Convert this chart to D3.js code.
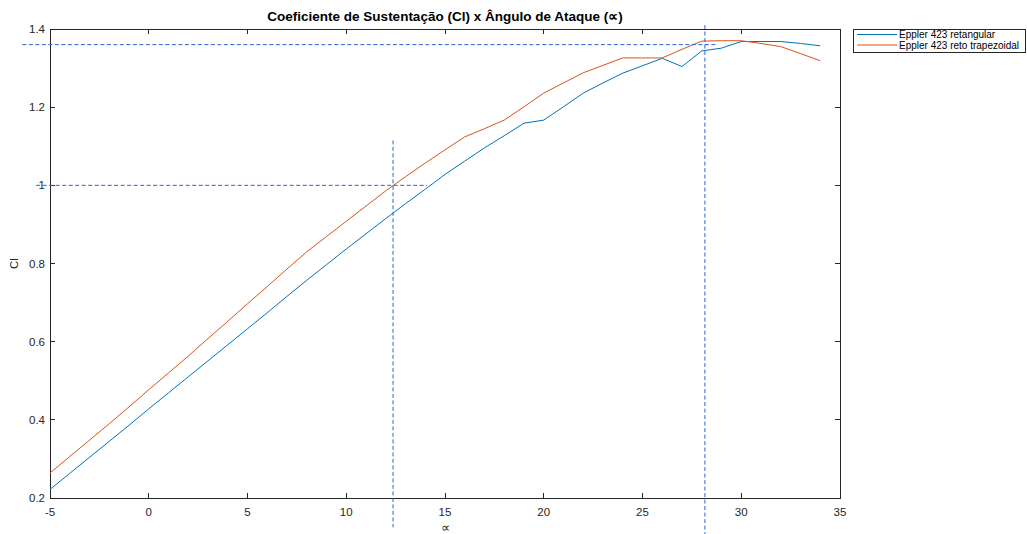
<!DOCTYPE html>
<html>
<head>
<meta charset="utf-8">
<script src="https://cdn.jsdelivr.net/npm/d3@7"></script>
<style>
  body { margin: 0; background: #fff; }
  svg { display: block; font-family: "Liberation Sans", Arial, sans-serif; }
</style>
</head>
<body>
<div id="chart"></div>
<script>
// angle of attack (deg)
const alpha = [-5,-4,-3,-2,-1,0,1,2,3,4,5,6,7,8,9,10,11,12,13,14,15,16,17,18,19,20,21,22,23,24,25,26,27,28,29,30,31,32,33,34];

// Cl values
const clRetangular = [0.222,0.263,0.304,0.345,0.386,0.428,0.469,0.510,0.551,0.592,0.633,0.674,0.716,0.757,0.797,0.837,0.876,0.915,0.953,0.990,1.028,1.062,1.096,1.127,1.159,1.167,1.201,1.236,1.262,1.287,1.306,1.325,1.304,1.344,1.351,1.368,1.368,1.368,1.363,1.357];
const clTrapezoidal = [0.264,0.306,0.348,0.390,0.433,0.477,0.520,0.563,0.608,0.652,0.697,0.741,0.786,0.830,0.869,0.908,0.947,0.986,1.022,1.057,1.091,1.124,1.145,1.167,1.201,1.236,1.262,1.288,1.307,1.326,1.326,1.326,1.348,1.369,1.370,1.370,1.363,1.355,1.337,1.319];

const seriesNames = ['Eppler 423 retangular', 'Eppler 423 reto trapezoidal'];
const seriesColors = ['#0072BD', '#D95319'];

const xTicks = [-5, 0, 5, 10, 15, 20, 25, 30, 35];
const yTicks = [0.2, 0.4, 0.6, 0.8, 1, 1.2, 1.4];

// guide lines (data coords), drawn unclipped like in the original
const guides = [
  { x: [-6.4, 28.7], y: [1.36, 1.36] },
  { x: [28.16, 28.16], y: [1.41, 0.108] },
  { x: [-5.7, 14.1], y: [1.0, 1.0] },
  { x: [12.37, 12.37], y: [1.115, 0.125] }
];

const width = 1027, height = 534;
const m = { top: 29, right: 187, bottom: 36, left: 50 };

const svg = d3.select('#chart').append('svg')
  .attr('width', width)
  .attr('height', height);

const x = d3.scaleLinear()
  .domain([-5, 35])
  .range([m.left, width - m.right]);
const y = d3.scaleLinear()
  .domain([0.2, 1.4])
  .range([height - m.bottom, m.top]);

const axisColor = '#262626';
const tickLen = 5;

// box + ticks (inward, all four sides)
const axG = svg.append('g');
axG.append('rect')
  .attr('x', x(-5)).attr('y', y(1.4))
  .attr('width', x(35) - x(-5)).attr('height', y(0.2) - y(1.4))
  .attr('fill', 'none')
  .attr('stroke', axisColor)
  .attr('stroke-width', 1)
  .attr('shape-rendering', 'crispEdges');

axG.selectAll('.xt-b').data(xTicks).join('line')
  .attr('x1', d => x(d)).attr('x2', d => x(d))
  .attr('y1', y(0.2)).attr('y2', y(0.2) - tickLen)
  .attr('stroke', axisColor).attr('shape-rendering', 'crispEdges');
axG.selectAll('.xt-t').data(xTicks).join('line')
  .attr('x1', d => x(d)).attr('x2', d => x(d))
  .attr('y1', y(1.4)).attr('y2', y(1.4) + tickLen)
  .attr('stroke', axisColor).attr('shape-rendering', 'crispEdges');
axG.selectAll('.yt-l').data(yTicks).join('line')
  .attr('x1', x(-5)).attr('x2', x(-5) + tickLen)
  .attr('y1', d => y(d)).attr('y2', d => y(d))
  .attr('stroke', axisColor).attr('shape-rendering', 'crispEdges');
axG.selectAll('.yt-r').data(yTicks).join('line')
  .attr('x1', x(35)).attr('x2', x(35) - tickLen)
  .attr('y1', d => y(d)).attr('y2', d => y(d))
  .attr('stroke', axisColor).attr('shape-rendering', 'crispEdges');

axG.selectAll('.xl').data(xTicks).join('text')
  .attr('x', d => x(d))
  .attr('y', y(0.2) + 18)
  .attr('text-anchor', 'middle')
  .attr('font-size', 11.5)
  .attr('fill', axisColor)
  .text(d => d);
axG.selectAll('.yl').data(yTicks).join('text')
  .attr('x', x(-5) - 5)
  .attr('y', d => y(d) + 4)
  .attr('text-anchor', 'end')
  .attr('font-size', 11.5)
  .attr('fill', axisColor)
  .text(d => d);

// series lines
const line = d3.line()
  .x((d, i) => x(alpha[i]))
  .y(d => y(d));

[clRetangular, clTrapezoidal].forEach((s, i) => {
  svg.append('path')
    .datum(s)
    .attr('fill', 'none')
    .attr('stroke', seriesColors[i])
    .attr('stroke-width', 1)
    .attr('d', line);
});

// dashed guide lines
guides.forEach(g => {
  svg.append('line')
    .attr('x1', x(g.x[0])).attr('x2', x(g.x[1]))
    .attr('y1', y(g.y[0])).attr('y2', y(g.y[1]))
    .attr('stroke', '#2a62d8')
    .attr('stroke-width', 1)
    .attr('stroke-dasharray', '4,2.5');
});

// title and labels
svg.append('text')
  .attr('x', (x(-5) + x(35)) / 2)
  .attr('y', 21)
  .attr('text-anchor', 'middle')
  .attr('font-size', 13.5)
  .attr('font-weight', 'bold')
  .attr('fill', '#000')
  .text('Coeficiente de Sustentação (Cl) x Ângulo de Ataque (∝)');

svg.append('text')
  .attr('x', (x(-5) + x(35)) / 2)
  .attr('y', 532)
  .attr('text-anchor', 'middle')
  .attr('font-size', 13)
  .attr('fill', axisColor)
  .text('∝');

svg.append('text')
  .attr('transform', `translate(18,${(y(0.2) + y(1.4)) / 2}) rotate(-90)`)
  .attr('text-anchor', 'middle')
  .attr('font-size', 11.5)
  .attr('fill', axisColor)
  .text('Cl');

// legend
const lg = svg.append('g').attr('transform', 'translate(853,29)');
lg.append('rect')
  .attr('width', 172).attr('height', 23)
  .attr('fill', '#fff')
  .attr('stroke', axisColor)
  .attr('stroke-width', 1)
  .attr('shape-rendering', 'crispEdges');
seriesNames.forEach((name, i) => {
  const ly = 5.5 + i * 10.5;
  lg.append('line')
    .attr('x1', 4).attr('x2', 44)
    .attr('y1', ly).attr('y2', ly)
    .attr('stroke', seriesColors[i])
    .attr('stroke-width', 1);
  lg.append('text')
    .attr('x', 46).attr('y', ly + 3.5)
    .attr('font-size', 10)
    .attr('fill', '#000')
    .text(name);
});
</script>
</body>
</html>
